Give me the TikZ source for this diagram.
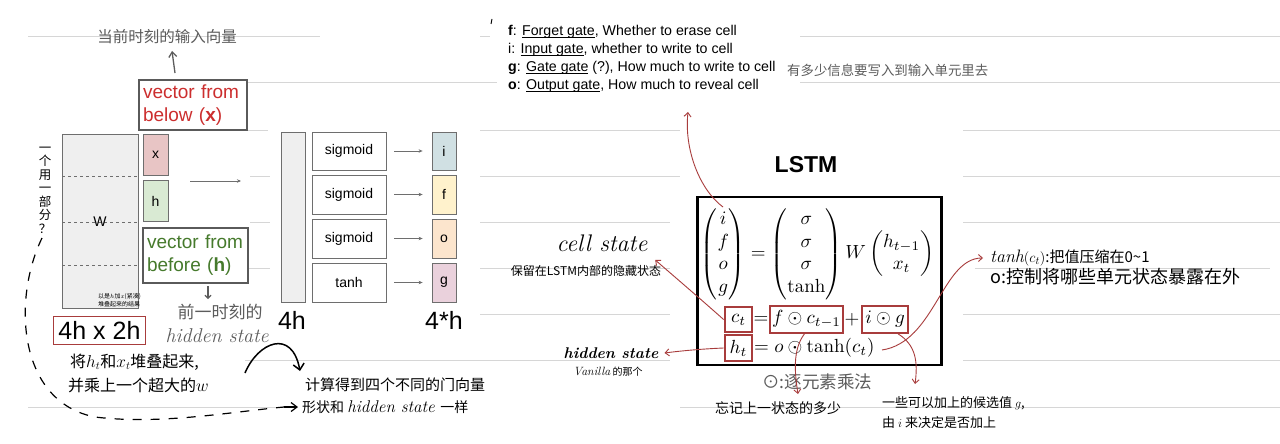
\documentclass[tikz,border=0pt]{standalone}
\usepackage{amsmath}
\usepackage{graphicx}
\usepackage{fontspec}
\newfontfamily\arial{Liberation Sans}
\newfontfamily\cjk{Noto Sans CJK SC}
\usetikzlibrary{arrows.meta}
\newcommand\gateul[1]{\setbox0\hbox{#1}\rlap{\rule[-2.2pt]{\wd0}{0.7pt}}\box0\relax}
\newcommand\latit[2]{{\normalfont\itshape\fontsize{#1}{#1}\selectfont #2}}
\definecolor{rulegray}{HTML}{D6D6D6}
\definecolor{boxgray}{HTML}{6E6E6E}
\definecolor{darkbox}{HTML}{5A5A5A}
\definecolor{wfill}{HTML}{EFEFEF}
\definecolor{xfill}{HTML}{E8C5C5}
\definecolor{hfill}{HTML}{D9EAD3}
\definecolor{ifill}{HTML}{D0E0E3}
\definecolor{ffill}{HTML}{FFF2CC}
\definecolor{ofill}{HTML}{FCE5CD}
\definecolor{gfill}{HTML}{EAD1DC}
\definecolor{slidered}{HTML}{CC2E2E}
\definecolor{slidegreen}{HTML}{467A2C}
\definecolor{annored}{HTML}{A83C3C}
\definecolor{notegray}{HTML}{5C5C5C}
\tikzset{
  ruled/.style={draw=rulegray, line width=1pt},
  slidebox/.style={draw=boxgray, line width=0.8pt, inner sep=0pt, font=\arial\fontsize{14}{16}\selectfont},
  callout/.style={draw=darkbox, line width=2.6pt, inner sep=0pt, align=left, font=\arial\fontsize{19}{23}\selectfont},
  bigsize/.style={font=\arial\fontsize{25}{28}\selectfont, inner sep=0pt},
  gatearrow/.style={draw=boxgray, line width=0.7pt, -{Stealth[length=4pt,width=3.5pt]}},
  redbox/.style={draw=annored, line width=2.8pt, inner sep=0pt},
  redboxthin/.style={draw=annored, line width=1.6pt, inner sep=0pt},
  redarrow/.style={draw=annored, line width=0.9pt, -{Straight Barb[length=4pt,width=7pt]}},
  handarrow/.style={draw=black, line width=1.5pt, -{Straight Barb[length=6pt,width=11pt]}},
  note/.style={font=\cjk\fontsize{14}{17}\selectfont, inner sep=0pt},
  graynote/.style={font=\cjk\fontsize{15}{18}\selectfont, text=notegray, inner sep=0pt},
  mathsc/.style={inner sep=0pt}
}
\begin{document}
\begin{tikzpicture}[x=1pt,y=-1pt]
\useasboundingbox[fill=white] (0,0) rectangle (1280,444);
% ruled notebook lines
\foreach \ya/\xa/\xb in {37/28/320, 37/480/490, 37/800/1280,
  83/247/497, 83/800/1280,
  130/247/268, 130/480/680, 130/963/1280,
  176/250/270, 176/480/680, 176/963/1280,
  222/250/270, 222/480/670, 222/963/1280,
  268/248/270, 268/480/670, 268/975/1270,
  314/480/670, 314/963/1280,
  360/245/670, 360/963/1280,
  407/28/290, 407/680/1280}
  \draw[ruled] (\xa,\ya) -- (\xb,\ya);

% ---------- left slide ----------
\node[slidebox, fill=wfill, minimum width=76, minimum height=174] (W) at (100,221) {};
\foreach \yy in {176,222,265}
  \draw[boxgray, line width=0.8pt, dash pattern=on 3pt off 3pt] (62,\yy) -- (138,\yy);
\node[font=\arial\fontsize{14}{16}\selectfont, inner sep=0pt] (Wl) at (100,222) {W};
\node[font=\cjk\fontsize{6}{7.5}\selectfont, align=left, inner sep=0pt, anchor=west] (wnote) at (98,300) {以是$h$加$x$(紧凑)\\堆叠起来的结果};
\node[slidebox, fill=xfill, minimum width=25, minimum height=41] (xb) at (155.5,155) {x};
\node[slidebox, fill=hfill, minimum width=25, minimum height=41] (hb) at (155.5,201) {h};
\coordinate (xa1) at (190,181);
\coordinate (xa2) at (241,181);
\draw[gatearrow] (xa1) -- (xa2);

\node[callout, text=slidered, minimum width=108, minimum height=50, text width=100] (vb) at (193,105) {vector from\\below (\textbf{x})};
\node[callout, text=slidegreen, minimum width=105, minimum height=55, text width=97] (vf) at (195.5,255.5) {vector from\\before (\textbf{h})};

\node[graynote, font=\cjk\fontsize{15.5}{18}\selectfont] (curin) at (167,37) {当前时刻的输入向量};
\coordinate (cu1) at (175,73);
\coordinate (cu2) at (172,51);
\draw[draw=notegray, line width=1.3pt, -{Straight Barb[length=5pt,width=8pt]}] (cu1) -- (cu2);

\node[graynote, font=\cjk\fontsize{17}{20}\selectfont] (prevt) at (220,312) {前一时刻的};
\node[font=\itshape\fontsize{20}{22}\selectfont, text=notegray, inner sep=0pt] (prevh) at (217,336) {hidden state};
\coordinate (pv1) at (208,286);
\coordinate (pv2) at (208,299);
\draw[draw=notegray, line width=1.1pt, -{Straight Barb[length=3pt,width=6pt]}] (pv1) -- (pv2);

\node[draw=annored, line width=1pt, minimum width=92, minimum height=28, inner sep=0pt, font=\arial\fontsize{25}{28}\selectfont] (dim) at (99.5,330) {4h x 2h};

\node[font=\cjk\fontsize{12.5}{13.5}\selectfont, align=center, inner sep=0pt] (vert) at (45,190) {一\\个\\用\\一\\部\\分\\？};

\node[note, font=\cjk\fontsize{16}{19}\selectfont, anchor=west] (stack1) at (70,362) {将$h_t$和$x_t$堆叠起来,};
\node[note, font=\cjk\fontsize{16}{19}\selectfont, anchor=west] (stack2) at (68,385) {并乘上一个超大的$w$};
\node[note, font=\cjk\fontsize{15}{18}\selectfont, anchor=west] (comp1) at (305,385) {计算得到四个不同的门向量};
\node[note, font=\cjk\fontsize{14}{17}\selectfont, anchor=west] (comp2) at (302,407) {形状和 \latit{17}{hidden state}\, 一样};

\coordinate (ha1) at (245,373);
\coordinate (ha2) at (300,371);
\draw[handarrow] (ha1) .. controls (258,342) and (292,328) .. (ha2);
\coordinate (da1) at (42,238);
\coordinate (da2) at (298,407);
\draw[black, line width=1.2pt, dash pattern=on 9pt off 9pt] (da1) .. controls (12,300) and (18,402) .. (95,417) .. controls (160,425) and (230,412) .. (284,407);
\draw[black, line width=1.2pt, -{Straight Barb[length=6pt,width=9pt]}] (284,407) -- (da2);

% ---------- middle slide ----------
\node[slidebox, fill=wfill, minimum width=24, minimum height=170] (col) at (293,217) {};
\node[bigsize] (c4h) at (292,320) {4h};
\node[slidebox, fill=white, minimum width=74, minimum height=38] (s1) at (349,151) {sigmoid};
\node[slidebox, fill=white, minimum width=74, minimum height=39] (s2) at (349,194.5) {sigmoid};
\node[slidebox, fill=white, minimum width=74, minimum height=39] (s3) at (349,238.5) {sigmoid};
\node[slidebox, fill=white, minimum width=74, minimum height=39] (s4) at (349,282.5) {tanh};
\node[slidebox, fill=ifill, minimum width=24, minimum height=38] (gi) at (444,151) {i};
\node[slidebox, fill=ffill, minimum width=24, minimum height=39] (gf) at (444,194.5) {f};
\node[slidebox, fill=ofill, minimum width=24, minimum height=39] (go) at (444,238.5) {o};
\node[slidebox, fill=gfill, minimum width=24, minimum height=39] (gg) at (444,282.5) {g};
\foreach \a/\b in {s1/gi, s2/gf, s3/go, s4/gg}
  \draw[gatearrow] ([xshift=8]\a.east) -- ([xshift=-9]\b.west);
\node[bigsize] (c4s) at (444,320) {4*h};

% ---------- right: gate list ----------
\draw[black, line width=0.9pt] (492,19) -- (491,24);
\node[font=\arial\fontsize{14.2}{18}\selectfont, align=left, anchor=north west, inner sep=0pt] (gates) at (508,25)
  {\textbf{f}: \gateul{Forget gate}, Whether to erase cell\\
   i: \gateul{Input gate}, whether to write to cell\\
   \textbf{g}: \gateul{Gate gate} (?), How much to write to cell\\
   \textbf{o}: \gateul{Output gate}, How much to reveal cell};
\node[graynote, font=\cjk\fontsize{13.4}{16}\selectfont, anchor=west] (gnote) at (787,70) {有多少信息要写入到输入单元里去};

% ---------- LSTM box ----------
\node[font=\arial\bfseries\fontsize{23}{26}\selectfont, inner sep=0pt] (title) at (806,165) {LSTM};
\node[draw=black, line width=2.4pt, minimum width=244, minimum height=168, inner sep=0pt] (box) at (819.5,281) {};
\node[mathsc] (eq1) at (817.5,254) {\scalebox{1.9}{$\begin{pmatrix}i\\f\\o\\g\end{pmatrix} = \begin{pmatrix}\sigma\\\sigma\\\sigma\\\tanh\end{pmatrix} W \begin{pmatrix}h_{t-1}\\x_t\end{pmatrix}$}};
\node[redbox, minimum width=27, minimum height=25] (ct) at (738.5,319.5) {\scalebox{1.9}{$c_t$}};
\node[mathsc] (eqA) at (761,320) {\scalebox{1.9}{$=$}};
\node[redboxthin, minimum width=73, minimum height=27] (fc) at (806.5,319.5) {\scalebox{1.9}{$f\odot c_{t-1}$}};
\node[mathsc] (plus) at (852,320) {\scalebox{1.9}{$+$}};
\node[redboxthin, minimum width=46, minimum height=27] (ig) at (885,319.5) {\scalebox{1.9}{$i\odot g$}};
\node[redbox, minimum width=27, minimum height=26] (ht) at (738.5,348) {\scalebox{1.9}{$h_t$}};
\node[mathsc, anchor=west] (eqB) at (754,348) {\scalebox{1.9}{$= o\odot\tanh(c_t)$}};

% ---------- annotations ----------
\coordinate (iv) at (723,207);
\coordinate (ivt) at (688,112);
\draw[redarrow] (iv) .. controls (700,190) and (684,150) .. (ivt);

\node[font=\itshape\fontsize{24}{26}\selectfont, inner sep=0pt] (cs) at (602,243) {cell state};
\node[note, font=\cjk\fontsize{12}{14}\selectfont] (csn) at (586,271) {保留在LSTM内部的隐藏状态};
\node[font=\bfseries\itshape\fontsize{15.5}{18}\selectfont, inner sep=0pt] (hs) at (611,353) {hidden state};
\node[note, font=\cjk\fontsize{10}{12}\selectfont] (hsn) at (608,372) {\latit{12}{Vanilla} 的那个};
\draw[redarrow] (ct.west) .. controls (705,303) and (690,290) .. ([xshift=-6,yshift=11]csn.east);
\draw[redarrow] (ht.west) .. controls (700,349) and (680,351) .. ([xshift=6]hs.east);

\node[note, font=\cjk\fontsize{15}{18}\selectfont, anchor=west] (tn1) at (990,258) {\latit{18}{tanh}$(c_t)$:把值压缩在0\textasciitilde 1};
\node[note, font=\cjk\fontsize{18}{21}\selectfont, anchor=west] (tn2) at (990,277) {o:控制将哪些单元状态暴露在外};
\coordinate (tnh) at (882,350);
\draw[redarrow] (tnh) .. controls (935,342) and (942,258) .. ([xshift=-7]tn1.west);

\node[graynote, font=\cjk\fontsize{17.5}{20}\selectfont, anchor=west] (odot) at (762,382) {⊙:逐元素乘法};
\node[note, font=\cjk\fontsize{14}{17}\selectfont, anchor=west] (fnote) at (715,408) {忘记上一状态的多少};
\node[note, font=\cjk\fontsize{13}{16}\selectfont, anchor=west] (gn1) at (882,403) {一些可以加上的候选值 $g$,};
\node[note, font=\cjk\fontsize{13}{16}\selectfont, anchor=west] (gn2) at (882,423) {由 $i$ 来决定是否加上};
\coordinate (fcd) at (798,394);
\coordinate (igd) at (915,384);
\draw[redarrow] ([xshift=-2]fc.south) .. controls (792,350) and (795,375) .. (fcd);
\draw[redarrow] ([xshift=13]ig.south) .. controls (916,345) and (918,362) .. (igd);
\end{tikzpicture}
\end{document}
